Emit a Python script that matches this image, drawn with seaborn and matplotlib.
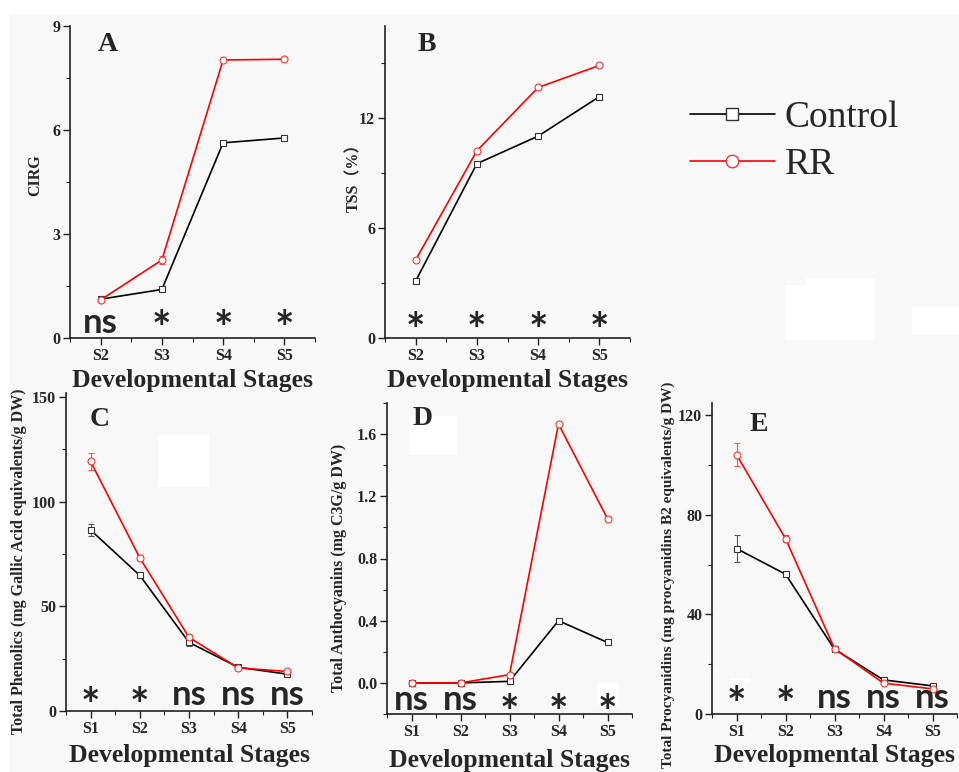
import numpy as np
import pandas as pd
import seaborn as sns
import matplotlib
matplotlib.use("Agg")
import matplotlib.pyplot as plt
from matplotlib.lines import Line2D
from matplotlib.patches import Rectangle
from matplotlib.ticker import MultipleLocator, FormatStrFormatter

# stage labels
stages_a = ["S2", "S3", "S4", "S5"]
stages_c = ["S1", "S2", "S3", "S4", "S5"]

# A - CIRG
cirg_control = [1.12, 1.40, 5.63, 5.77]
cirg_rr = [1.10, 2.25, 8.02, 8.04]
cirg_control_err = [0.0, 0.0, 0.0, 0.0]
cirg_rr_err = [0.0, 0.12, 0.0, 0.0]
cirg_sig = ["ns", "*", "*", "*"]

# B - TSS
tss_control = [3.10, 9.50, 11.0, 13.15]
tss_rr = [4.25, 10.2, 13.65, 14.85]
tss_sig = ["*", "*", "*", "*"]

# C - total phenolics
phen_control = [86.5, 64.8, 32.8, 20.9, 17.6]
phen_rr = [119.3, 73.2, 35.2, 20.6, 18.9]
phen_control_err = [2.8, 1.0, 1.5, 0.8, 0.8]
phen_rr_err = [4.2, 1.5, 1.0, 0.8, 0.8]
phen_sig = ["*", "*", "ns", "ns", "ns"]

# D - total anthocyanins
anth_control = [0.0, 0.0, 0.01, 0.40, 0.26]
anth_rr = [0.0, 0.0, 0.053, 1.665, 1.056]
anth_sig = ["ns", "ns", "*", "*", "*"]

# E - total procyanidins
proc_control = [66.5, 56.2, 26.0, 13.7, 11.3]
proc_rr = [104.3, 70.5, 26.3, 12.4, 10.1]
proc_control_err = [5.3, 0.8, 0.8, 1.0, 0.5]
proc_rr_err = [4.8, 1.5, 0.8, 0.8, 0.5]
proc_sig = ["*", "*", "ns", "ns", "ns"]

sns.set_style("ticks")
plt.rcParams["font.family"] = ["Liberation Serif", "Noto Sans CJK SC"]
plt.rcParams["font.weight"] = "bold"
plt.rcParams["axes.labelweight"] = "bold"

BG = "#f8f8f8"
W, H = 959, 772
fig = plt.figure(figsize=(W / 100, H / 100), dpi=100, facecolor="white")


def px_rect(x0, x1, y0, y1, color):
    fig.patches.append(Rectangle((x0 / W, 1 - y1 / H), (x1 - x0) / W, (y1 - y0) / H,
                                 transform=fig.transFigure, facecolor=color,
                                 edgecolor="none", zorder=-10))


px_rect(10, W, 14, H, BG)
# white blotches left over in the original scan
for box in [(158, 209, 435, 487), (409, 457, 416, 455), (597, 619, 683, 705),
            (730, 750, 678, 683), (785, 875, 285, 340), (806, 875, 278, 290),
            (912, 959, 307, 335)]:
    px_rect(*box, "white")


def panel(rect, stages, control, rr, c_err, r_err, sig, ylim, major, fmt,
          ylabel, ylab_size, letter, letter_xy, lab_x, lab_y, xpad, ns_y, star_y):
    ax = fig.add_axes([rect[0] / W, 1 - rect[3] / H, (rect[1] - rect[0]) / W,
                       (rect[3] - rect[2]) / H])
    ax.set_facecolor("none")
    pos = np.arange(len(stages))
    df = pd.DataFrame({"pos": pos, "Control": control, "RR": rr})
    if c_err is not None:
        ax.errorbar(pos, control, yerr=c_err, fmt="none", ecolor="#555555",
                    elinewidth=0.8, capsize=2.5, capthick=0.8, zorder=1)
        ax.errorbar(pos, rr, yerr=r_err, fmt="none", ecolor="#ff5050",
                    elinewidth=0.8, capsize=2.5, capthick=0.8, zorder=1)
    sns.lineplot(data=df, x="pos", y="Control", ax=ax, color="black", lw=1.2,
                 marker="s", markersize=4.5, mfc="white", mec="#333333", mew=0.8)
    sns.lineplot(data=df, x="pos", y="RR", ax=ax, color="#ff0000", lw=1.2,
                 marker="o", markersize=5, mfc="white", mec="#ff3030", mew=0.8)
    ax.set_xlim(-0.5, len(stages) - 0.5)
    ax.set_ylim(*ylim)
    ax.set_xticks(pos)
    ax.set_xticklabels(stages)
    ax.xaxis.set_minor_locator(MultipleLocator(0.5))
    ax.yaxis.set_major_locator(MultipleLocator(major))
    ax.yaxis.set_minor_locator(MultipleLocator(major / 2))
    ax.yaxis.set_major_formatter(FormatStrFormatter(fmt))
    sns.despine(ax=ax)
    for s in ["left", "bottom"]:
        ax.spines[s].set_linewidth(1.2)
        ax.spines[s].set_color("#222222")
    ax.tick_params(which="major", direction="out", length=5, width=1.0,
                   labelsize=11.5, color="#222222", pad=2)
    ax.tick_params(which="minor", direction="out", length=3, width=0.8,
                   color="#222222")
    ax.set_xlabel("Developmental Stages", fontsize=18.5, labelpad=xpad)
    ax.set_ylabel(ylabel, fontsize=ylab_size)
    ax.yaxis.set_label_coords(lab_x, lab_y)
    fig.text(letter_xy[0] / W, 1 - letter_xy[1] / H, letter, fontsize=20,
             fontweight="bold", va="top", ha="left")
    tr = ax.get_xaxis_transform()
    for p, s in zip(pos, sig):
        if s == "ns":
            ax.text(p, ns_y, s, transform=tr, family="Lato", fontweight="bold",
                    fontsize=25, ha="center", va="baseline")
        else:
            ax.text(p, star_y, s, transform=tr, family="Lato", fontweight="bold",
                    fontsize=33, ha="center", va="baseline")
    return ax


panel((70, 315, 26, 338), stages_a, cirg_control, cirg_rr, cirg_control_err,
      cirg_rr_err, cirg_sig, (0, 9), 3, "%d", "CIRG", 11.5, "A", (98, 32),
      -0.11, 0.522, 4, 0.016, -0.018)
panel((385, 630, 26, 338), stages_a, tss_control, tss_rr, None, None, tss_sig,
      (0, 17), 6, "%d", "TSS（%）", 11.5, "B", (418, 32), -0.094, 0.526, 4,
      0.016, -0.025)
panel((66, 312, 393, 711), stages_c, phen_control, phen_rr, phen_control_err,
      phen_rr_err, phen_sig, (0, 152), 50, "%d",
      "Total Phenolics (mg Gallic Acid equivalents/g DW)", 11.5, "C", (90, 407),
      -0.159, 0.472, 5.5, 0.02, -0.030)
panel((387, 632, 403, 714), stages_c, anth_control, anth_rr, None, None,
      anth_sig, (-0.2, 1.8), 0.4, "%.1f", "Total Anthocyanins (mg C3G/g DW)",
      11.5, "D", (413, 406), -0.163, 0.471, 7, 0.013, -0.046)
panel((712, 957, 403, 714), stages_c, proc_control, proc_rr, proc_control_err,
      proc_rr_err, proc_sig, (0, 125), 40, "%d",
      "Total Procyanidins (mg procyanidins B2 equivalents/g DW)", 11, "E",
      (750, 412), -0.151, 0.447, 3, 0.02, -0.018)

handles = [
    Line2D([], [], color="black", lw=1.2, marker="s", markersize=8, mfc="white",
           mec="#333333", mew=1.0),
    Line2D([], [], color="#ff0000", lw=1.2, marker="o", markersize=9, mfc="white",
           mec="#ff3030", mew=1.0),
]
leg = fig.legend(handles, ["Control", "RR"], loc="upper left",
                 bbox_to_anchor=(656 / W, 1 - 67 / H), frameon=False,
                 prop={"family": "Liberation Serif", "size": 27, "weight": "normal"},
                 handlelength=2.27, handletextpad=0.27, labelspacing=0.33)

fig.savefig("out.png", dpi=100, facecolor=fig.get_facecolor())
